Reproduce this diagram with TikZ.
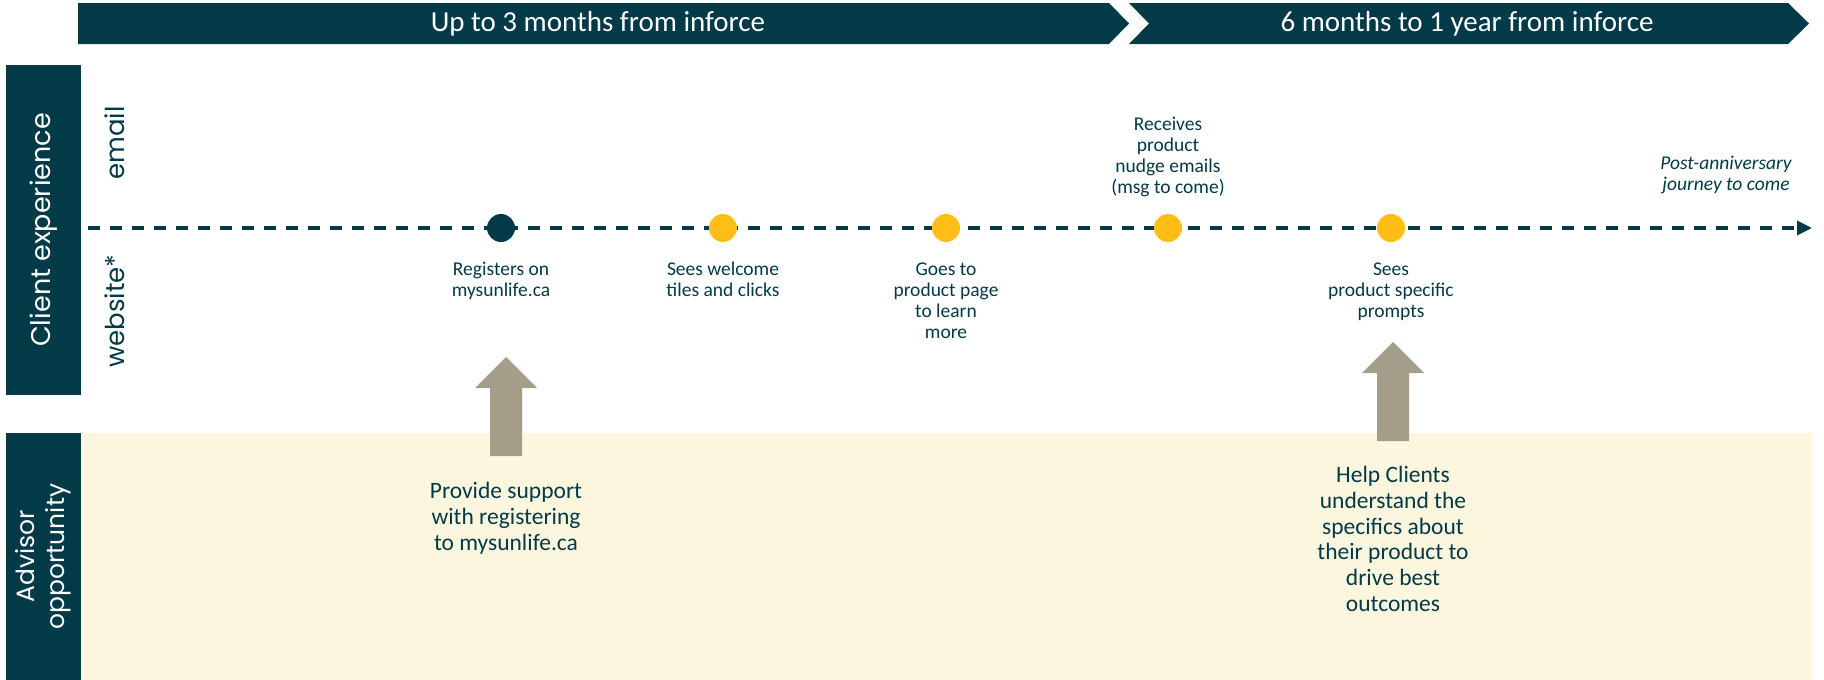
\documentclass[tikz,border=0pt]{standalone}
\usepackage{fontspec}
\setmainfont{Carlito}
\newfontfamily\geofont{Poppins}
\usetikzlibrary{arrows.meta, calc, positioning}
\definecolor{sldark}{HTML}{033A47}
\definecolor{slyellow}{HTML}{FFBE17}
\definecolor{sltan}{HTML}{A49D89}
\definecolor{slcream}{HTML}{FDF6DF}
\tikzset{
  banner/.style = {fill=sldark},
  bannertext/.style = {text=white, font=\fontsize{29}{33}\selectfont},
  sidebox/.style = {rectangle, fill=sldark, text=white, rotate=90, inner sep=0pt, align=center, font=\geofont},
  channel/.style = {rotate=90, anchor=base, text=sldark, font=\geofont\fontsize{26}{30}\selectfont},
  event/.style = {circle, minimum size=28pt, inner sep=0pt, fill=slyellow},
  evtext/.style = {align=center, text=sldark, inner sep=0pt, font=\fontsize{19.5}{21}\selectfont},
  advtext/.style = {align=center, text=sldark, inner sep=0pt, font=\fontsize{23.5}{25.8}\selectfont},
  timeline/.style = {draw=sldark, line width=3.5pt, dash pattern=on 12pt off 10pt, -{Triangle[length=15pt,width=14pt]}},
  uparrow/.style = {fill=sltan}
}

\begin{document}
\begin{tikzpicture}[x=1pt, y=-1pt]
  \useasboundingbox (0,0) rectangle (1824,680);

  % header bands
  \fill[banner] (78,3) -- (1109,3) -- (1129,23.5) -- (1109,44) -- (78,44) -- cycle;
  \fill[banner] (1129,3) -- (1788,3) -- (1809,23.5) -- (1788,44) -- (1129,44) -- (1149,23.5) -- cycle;
  \node (phase1) [bannertext] at (598,23.5) {Up to 3 months from inforce};
  \node (phase2) [bannertext] at (1467,23.5) {6 months to 1 year from inforce};

  % side labels
  \node (client) [sidebox, minimum width=330pt, minimum height=75pt, font=\geofont\fontsize{27}{30}\selectfont] at (43.5,230) {Client experience};
  \fill[slcream] (81,433) rectangle (1812,680);
  \node (advisor) [sidebox, minimum width=247pt, minimum height=75pt, font=\geofont\fontsize{25}{30}\selectfont] at (43.5,556.5) {Advisor\\opportunity};
  \node (email) [channel] at (124,143) {email};
  \node (website) [channel] at (124,311) {website*};

  % timeline
  \coordinate (tlstart) at (88,228);
  \coordinate (tlend) at (1812,228);
  \draw[timeline] (tlstart) -- (tlend);

  \node (register) [event, fill=sldark] at (501,228) {};
  \node (welcome) [event] at (723,228) {};
  \node (product) [event] at (946,228) {};
  \node (nudge) [event] at (1168,228) {};
  \node (prompts) [event] at (1391,228) {};

  \node (registerlbl) [evtext, below=20pt of register] {Registers on\\mysunlife.ca};
  \node (welcomelbl) [evtext, below=20pt of welcome] {Sees welcome\\tiles and clicks};
  \node (productlbl) [evtext, below=20pt of product] {Goes to\\product page\\to learn\\more};
  \node (nudgelbl) [evtext, above=17pt of nudge] {Receives\\product\\nudge emails\\(msg to come)};
  \node (promptslbl) [evtext, below=20pt of prompts] {Sees\\product specific\\prompts};
  \node (postlbl) [evtext, font=\itshape\fontsize{19.5}{21}\selectfont] at (1726,175) {Post-anniversary\\journey to come};

  % advisor opportunities
  \coordinate (tail1) at (506,456);
  \fill[uparrow] (tail1) -- ++(-16,0) -- ++(0,-68) -- ++(-15,0) -- ++(31,-31) -- ++(31,31) -- ++(-15,0) -- ++(0,68) -- cycle;
  \node (support) [advtext, below=26pt of tail1] {Provide support\\with registering\\to mysunlife.ca};

  \coordinate (tail2) at (1393,441);
  \fill[uparrow] (tail2) -- ++(-16,0) -- ++(0,-68) -- ++(-15,0) -- ++(31,-31) -- ++(31,31) -- ++(-15,0) -- ++(0,68) -- cycle;
  \node (help) [advtext, below=25pt of tail2] {Help Clients\\understand the\\specifics about\\their product to\\drive best\\outcomes};
\end{tikzpicture}
\end{document}
